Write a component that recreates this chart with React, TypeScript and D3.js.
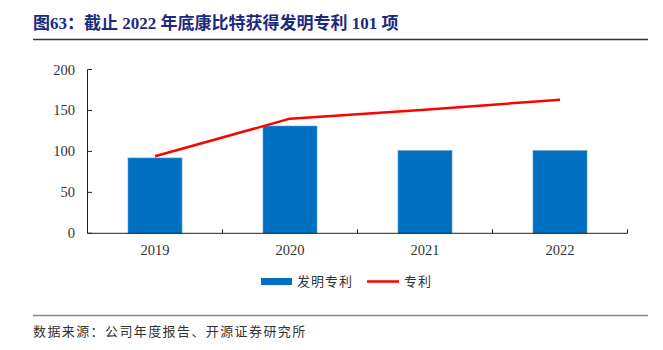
import * as d3 from 'd3';

const years = ['2019', '2020', '2021', '2022'];
const inventionPatents = [92, 131, 101, 101];
const allPatents = [94, 140, 151, 163];
const yTicks = [0, 50, 100, 150, 200];

const W = 663;
const H = 350;
const serif = '"Liberation Serif", "Times New Roman", serif';
const cjk = '"Noto Sans CJK SC", sans-serif';

export default function App() {
  const x = d3.scaleBand<string>().domain(years).range([87.5, 627.5]);
  const y = d3.scaleLinear().domain([0, 200]).range([233.3, 69.5]);
  const bw = x.bandwidth() * 0.4;
  const cx = (d: string) => x(d)! + x.bandwidth() / 2;

  const line = d3
    .line<number>()
    .x((_, i) => cx(years[i]))
    .y((d) => y(d));

  const axisColor = '#222';

  return (
    <svg
      width={W}
      height={H}
      viewBox={`0 0 ${W} ${H}`}
      style={{ position: 'absolute', left: 0, top: 0, background: '#fff' }}
    >
      {/* Title */}
      <text x={33} y={29} fontFamily={`${serif}, ${cjk}`} fontWeight="bold" fontSize={17} fill="#1B2A7F">
        图63：截止 2022 年底康比特获得发明专利 101 项
      </text>
      <line x1={33} x2={648} y1={39.5} y2={39.5} stroke="#333" strokeWidth={1.5} />

      {/* Bars */}
      {inventionPatents.map((v, i) => (
        <rect
          key={years[i]}
          x={cx(years[i]) - bw / 2}
          y={y(v)}
          width={bw}
          height={y(0) - y(v)}
          fill="#0070C0"
          stroke="#5B9BD5"
          strokeWidth={0.6}
        />
      ))}

      {/* Line */}
      <path d={line(allPatents)!} fill="none" stroke="#FF0000" strokeWidth={2.5} strokeLinejoin="round" />

      {/* Y axis */}
      <line x1={87.5} x2={87.5} y1={y(200)} y2={y(0)} stroke={axisColor} strokeWidth={1} />
      {yTicks.map((t) => (
        <g key={t}>
          <line x1={87.5} x2={92} y1={y(t)} y2={y(t)} stroke={axisColor} strokeWidth={1} />
          <text x={75} y={y(t) + 5} textAnchor="end" fontFamily={serif} fontSize={14.5} fill="#333">
            {t}
          </text>
        </g>
      ))}

      {/* X axis */}
      <line x1={87.5} x2={627.5} y1={y(0)} y2={y(0)} stroke={axisColor} strokeWidth={1} />
      {years.map((d) => (
        <g key={d}>
          <line x1={x(d)! + x.bandwidth()} x2={x(d)! + x.bandwidth()} y1={y(0)} y2={y(0) - 4} stroke={axisColor} strokeWidth={1} />
          <text x={cx(d)} y={255} textAnchor="middle" fontFamily={serif} fontSize={14.5} fill="#333">
            {d}
          </text>
        </g>
      ))}

      {/* Legend */}
      <rect x={261} y={278} width={31} height={7} fill="#0070C0" />
      <text x={297} y={285.5} fontFamily={cjk} fontSize={13} fill="#333" letterSpacing={1}>
        发明专利
      </text>
      <line x1={367} x2={399} y1={281.5} y2={281.5} stroke="#FF0000" strokeWidth={2.5} />
      <text x={404} y={285.5} fontFamily={cjk} fontSize={13} fill="#333" letterSpacing={1}>
        专利
      </text>

      {/* Footer */}
      <line x1={33} x2={648} y1={315.5} y2={315.5} stroke="#888" strokeWidth={1.5} />
      <text x={33} y={336} fontFamily={cjk} fontSize={13} fill="#333" letterSpacing={1.4}>
        数据来源：公司年度报告、开源证券研究所
      </text>
    </svg>
  );
}
